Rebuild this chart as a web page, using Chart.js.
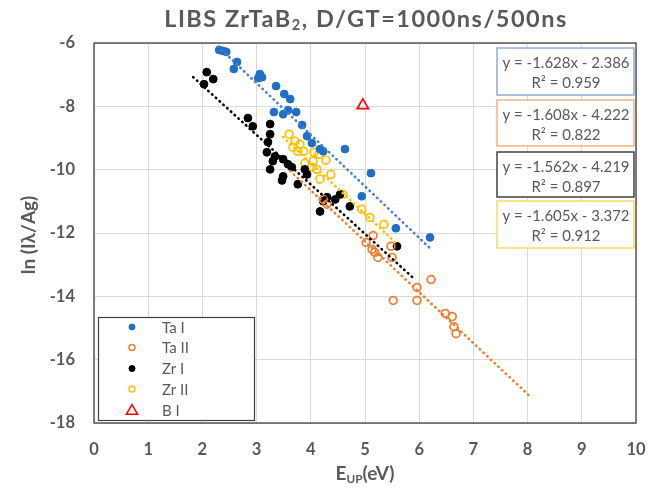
<!DOCTYPE html>
<html>
<head>
<meta charset="utf-8">
<script src="https://cdn.jsdelivr.net/npm/chart.js@4"></script>
<style>
  html, body { margin: 0; padding: 0; background: #fff; }
</style>
</head>
<body>
<canvas id="c" width="649" height="488"></canvas>
<script>
// measured points [E_up (eV), ln(I*lambda/Ag)]
const taI = [[2.31,-6.22],[2.38,-6.25],[2.44,-6.28],[2.64,-6.60],[2.58,-6.82],[3.06,-6.98],[3.10,-7.08],
  [3.03,-7.11],[3.36,-7.36],[3.51,-7.61],[3.62,-7.77],[3.32,-8.18],[3.49,-8.25],[3.58,-8.12],[3.73,-8.18],
  [3.84,-8.59],[3.93,-8.94],[4.02,-9.16],[4.17,-9.35],[4.23,-9.42],[4.63,-9.35],[5.11,-10.11],[4.94,-10.84],
  [5.57,-11.85],[6.20,-12.14]];
const taII = [[4.23,-10.94],[4.30,-11.09],[5.15,-12.08],[5.02,-12.30],[5.13,-12.52],[5.18,-12.61],[5.24,-12.77],
  [5.48,-12.42],[5.50,-12.77],[6.22,-13.47],[5.96,-13.72],[5.96,-14.13],[5.52,-14.13],[6.48,-14.54],
  [6.61,-14.64],[6.64,-14.96],[6.68,-15.18]];
const zrI = [[2.08,-6.92],[2.20,-7.14],[2.03,-7.30],[2.84,-8.37],[2.93,-8.63],[3.25,-8.56],[3.25,-8.88],
  [3.21,-9.13],[3.19,-9.45],[3.34,-9.58],[3.30,-9.73],[3.25,-9.99],[3.49,-9.67],[3.49,-10.21],[3.47,-10.34],
  [3.58,-9.83],[3.65,-9.92],[3.89,-9.99],[3.93,-10.15],[3.76,-10.46],[4.30,-10.87],[4.23,-11.00],[4.45,-10.94],
  [4.54,-10.78],[4.72,-11.16],[4.17,-11.32],[5.59,-12.42]];
const zrII = [[3.60,-8.88],[3.71,-9.10],[3.80,-9.20],[3.67,-9.29],[3.76,-9.42],[3.87,-9.42],[4.06,-9.45],
  [4.15,-9.51],[4.28,-9.70],[3.89,-9.80],[4.04,-9.73],[4.02,-9.92],[4.11,-9.99],[4.17,-10.30],[4.37,-10.15],
  [4.59,-10.78],[4.94,-11.25],[5.09,-11.51],[5.35,-11.73]];
const bI = [[4.96,-7.97]];

// trendline end points (from the fitted equations)
const taITrend = [[2.29,-6.114],[6.20,-12.480]];
const taIITrend = [[3.62,-10.043],[8.04,-17.150]];
const zrITrend = [[1.83,-7.077],[5.92,-13.466]];
const zrIITrend = [[3.49,-8.973],[5.61,-12.376]];

const seriesNames = ['Ta I', 'Ta II', 'Zr I', 'Zr II', 'B I'];
const fitLines = [
  ['y = -1.628x - 2.386', 'R\u00b2 = 0.959'],
  ['y = -1.608x - 4.222', 'R\u00b2 = 0.822'],
  ['y = -1.562x - 4.219', 'R\u00b2 = 0.897'],
  ['y = -1.605x - 3.372', 'R\u00b2 = 0.912']
];
const xTicks = [0, 10, 1];
const yTicks = [-18, -6, 2];

const GREY = '#595959';
const FONT = 'Lato, "Open Sans", sans-serif';

function toXY(arr) { return arr.map(p => ({ x: p[0], y: p[1] })); }

function pointSet(label, data, color, filled, style, r) {
  return {
    label: label, data: toXY(data), order: 1,
    pointStyle: style || 'circle', pointRadius: r || 3.9,
    pointBackgroundColor: filled ? color : 'rgba(0,0,0,0)',
    pointBorderColor: color, pointBorderWidth: filled ? 1 : 1.7,
    showLine: false
  };
}
function trendSet(data, color) {
  return {
    data: toXY(data), order: 0, showLine: true, pointRadius: 0,
    borderColor: color, borderWidth: 2.6, borderDash: [0.5, 4.6], borderCapStyle: 'round'
  };
}

// draw text with sub/superscript pieces
function richText(ctx, segs, x, y, size, bold, spacing) {
  ctx.letterSpacing = (spacing || 0) + 'px';
  const w = (s) => { ctx.font = (bold ? 'bold ' : '') + (s.sub ? size * 0.62 : size) + 'px ' + FONT; return ctx.measureText(s.t).width; };
  let total = 0;
  segs.forEach(s => total += w(s));
  let cx = x - total / 2;
  ctx.textAlign = 'left';
  ctx.textBaseline = 'middle';
  segs.forEach(s => {
    const sw = w(s);
    ctx.fillText(s.t, cx, s.sub ? y + size * 0.28 : y);
    cx += sw;
  });
  ctx.letterSpacing = '0px';
}

const decor = {
  id: 'decor',
  beforeDatasetsDraw(chart) {
    const ctx = chart.ctx, a = chart.chartArea;
    ctx.save();
    ctx.strokeStyle = '#404040';
    ctx.lineWidth = 1.3;
    ctx.strokeRect(a.left, a.top, a.right - a.left, a.bottom - a.top);
    ctx.restore();
  },
  afterDraw(chart) {
    const ctx = chart.ctx;
    ctx.save();
    ctx.fillStyle = GREY;
    // title
    richText(ctx, [{ t: 'LIBS ZrTaB' }, { t: '2', sub: true }, { t: ', D/GT=1000ns/500ns' }], 366, 19, 23.5, true, 1.5);
    // x axis title
    richText(ctx, [{ t: 'E' }, { t: 'UP', sub: true }, { t: '(eV)' }], 365, 474, 19, true);
    // y axis title
    ctx.save();
    ctx.translate(29, 235);
    ctx.rotate(-Math.PI / 2);
    richText(ctx, [{ t: 'ln (I\u03bb/Ag)' }], 0, 0, 19, true);
    ctx.restore();

    // legend box
    ctx.fillStyle = '#fff';
    ctx.fillRect(98, 317, 156, 103);
    ctx.strokeStyle = '#404040';
    ctx.lineWidth = 1.2;
    ctx.strokeRect(98.5, 317.5, 156, 103);
    const rows = [327, 347.5, 368.5, 389, 410];
    const marks = [
      ['#1f6fc6', true, 'circle'], ['#ed7d31', false, 'circle'], ['#000', true, 'circle'],
      ['#ffc000', false, 'circle'], ['#ff0000', false, 'triangle']
    ];
    marks.forEach((m, i) => {
      const style = {
        pointStyle: m[2], radius: m[2] === 'triangle' ? 6.5 : 3, rotation: 0,
        borderWidth: m[1] ? 1 : 1.5
      };
      ctx.fillStyle = m[1] ? m[0] : 'rgba(0,0,0,0)';
      ctx.strokeStyle = m[0];
      ctx.lineWidth = style.borderWidth;
      Chart.helpers.drawPoint(ctx, style, 132, m[2] === 'triangle' ? rows[i] + 1 : rows[i]);
      ctx.fillStyle = GREY;
      ctx.font = '15px ' + FONT;
      ctx.textAlign = 'left';
      ctx.textBaseline = 'middle';
      ctx.fillText(seriesNames[i], 162, rows[i] + 1);
    });

    // equation boxes
    const boxes = [[48, 47, '#8faadc'], [100, 46, '#f4b183'], [152, 45, '#404040'], [201, 47, '#ffd966']];
    boxes.forEach((b, i) => {
      ctx.fillStyle = '#fff';
      ctx.fillRect(497, b[0], 137, b[1]);
      ctx.strokeStyle = b[2];
      ctx.lineWidth = 1.5;
      ctx.strokeRect(497, b[0], 137, b[1]);
      ctx.fillStyle = GREY;
      ctx.font = '15px ' + FONT;
      ctx.textAlign = 'center';
      ctx.textBaseline = 'middle';
      ctx.fillText(fitLines[i][0], 566, b[0] + 15);
      ctx.fillText(fitLines[i][1], 566, b[0] + 35);
    });
    ctx.restore();
  }
};

new Chart(document.getElementById('c'), {
  type: 'scatter',
  data: {
    datasets: [
      pointSet('Ta I', taI, '#1f6fc6', true),
      pointSet('Ta II', taII, '#ed7d31', false),
      pointSet('Zr I', zrI, '#000000', true),
      pointSet('Zr II', zrII, '#ffc000', false),
      pointSet('B I', bI, '#ff0000', false, 'triangle', 6.5),
      trendSet(taITrend, '#4a7fd0'),
      trendSet(taIITrend, '#ed7d31'),
      trendSet(zrITrend, '#000000'),
      trendSet(zrIITrend, '#ffc000')
    ]
  },
  options: {
    responsive: false,
    animation: false,
    layout: { padding: { top: 43, right: 13, left: 0, bottom: 0 } },
    plugins: { legend: { display: false }, tooltip: { enabled: false }, title: { display: false } },
    scales: {
      x: {
        min: xTicks[0], max: xTicks[1],
        ticks: { stepSize: xTicks[2], color: GREY, font: { family: FONT, size: 16.5, weight: 'bold' }, padding: 17 },
        grid: { color: '#d9d9d9', drawTicks: false },
        border: { display: false },
        afterFit(s) { s.height = 65; s.paddingRight = 0; s.paddingLeft = 0; }
      },
      y: {
        min: yTicks[0], max: yTicks[1],
        ticks: { stepSize: yTicks[2], color: GREY, font: { family: FONT, size: 16.5, weight: 'bold' }, padding: 19 },
        grid: { color: '#d9d9d9', drawTicks: false },
        border: { display: false },
        afterFit(s) { s.width = 94; s.paddingTop = 0; s.paddingBottom = 0; }
      }
    }
  },
  plugins: [decor]
});
</script>
</body>
</html>
